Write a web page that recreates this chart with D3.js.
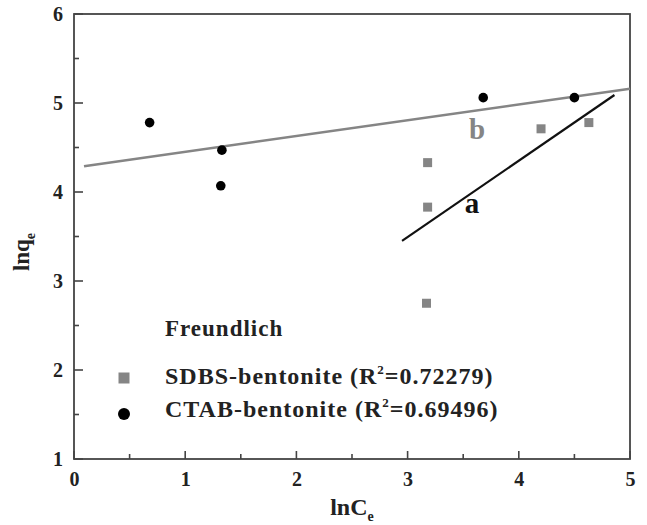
<!DOCTYPE html>
<html>
<head>
<meta charset="utf-8">
<script src="https://d3js.org/d3.v7.min.js"></script>
<style>
  body { margin: 0; background: #fff; }
  svg text { font-family: "Liberation Serif", "Times New Roman", serif; font-weight: bold; }
</style>
</head>
<body>
<div id="chart"></div>
<script>
// data
const sdbsX = [3.18, 3.18, 3.17, 4.20, 4.63];
const sdbsY = [4.33, 3.83, 2.75, 4.71, 4.78];
const ctabX = [0.68, 1.33, 1.32, 3.68, 4.50];
const ctabY = [4.78, 4.47, 4.07, 5.06, 5.06];
// fitted lines (endpoints as drawn)
const fitA = [[2.95, 3.45], [4.86, 5.09]];   // SDBS, black
const fitB = [[0.09, 4.29], [5.00, 5.16]];   // CTAB, grey
const xTicks = [0, 1, 2, 3, 4, 5];
const yTicks = [1, 2, 3, 4, 5, 6];
const xMinor = [0.5, 1.5, 2.5, 3.5, 4.5];
const yMinor = [1.5, 2.5, 3.5, 4.5, 5.5];

const W = 647, H = 525;
const padL = 74, padR = 630, padT = 14, padB = 459;
const grey = "#858585", axisCol = "#444";

const svg = d3.select("#chart").append("svg")
  .attr("width", W).attr("height", H);

const x = d3.scaleLinear().domain([0, 5]).range([padL, padR]);
const y = d3.scaleLinear().domain([1, 6]).range([padB, padT]);

// frame
svg.append("rect")
  .attr("x", padL).attr("y", padT)
  .attr("width", padR - padL).attr("height", padB - padT)
  .attr("fill", "none").attr("stroke", axisCol).attr("stroke-width", 1.8);

// tick labels via d3 axes, tick marks drawn inward by hand
const gx = svg.append("g").attr("transform", `translate(0,${padB})`)
  .call(d3.axisBottom(x).tickValues(xTicks).tickSize(0).tickPadding(13).tickFormat(d3.format("d")));
const gy = svg.append("g").attr("transform", `translate(${padL},0)`)
  .call(d3.axisLeft(y).tickValues(yTicks).tickSize(0).tickPadding(11).tickFormat(d3.format("d")));
[gx, gy].forEach(g => {
  g.select(".domain").remove();
  g.selectAll(".tick text").attr("fill", "#222").style("font-size", "20px")
    .style("font-family", "'Liberation Serif', serif").style("font-weight", "bold");
});

const xMarks = xTicks.map(v => ({ v: v, len: 8 })).concat(xMinor.map(v => ({ v: v, len: 5 })));
const yMarks = yTicks.map(v => ({ v: v, len: 9 })).concat(yMinor.map(v => ({ v: v, len: 5 })));
svg.selectAll("line.xmark").data(xMarks).join("line")
  .attr("class", "xmark")
  .attr("x1", d => x(d.v)).attr("x2", d => x(d.v))
  .attr("y1", padB).attr("y2", d => padB - d.len)
  .attr("stroke", axisCol).attr("stroke-width", 1.6);
svg.selectAll("line.ymark").data(yMarks).join("line")
  .attr("class", "ymark")
  .attr("y1", d => y(d.v)).attr("y2", d => y(d.v))
  .attr("x1", padL).attr("x2", d => padL + d.len)
  .attr("stroke", axisCol).attr("stroke-width", 1.6);

// fit lines
const line = d3.line().x(d => x(d[0])).y(d => y(d[1]));
svg.append("path").datum(fitB).attr("d", line)
  .attr("stroke", grey).attr("stroke-width", 2.4).attr("fill", "none");
svg.append("path").datum(fitA).attr("d", line)
  .attr("stroke", "#111").attr("stroke-width", 2.2).attr("fill", "none");

// points
const sdbs = sdbsX.map((v, i) => [v, sdbsY[i]]);
const ctab = ctabX.map((v, i) => [v, ctabY[i]]);
svg.selectAll("rect.sq").data(sdbs).join("rect").attr("class", "sq")
  .attr("x", d => x(d[0]) - 4.5).attr("y", d => y(d[1]) - 4.5)
  .attr("width", 9).attr("height", 9).attr("fill", grey);
svg.selectAll("circle.ci").data(ctab).join("circle").attr("class", "ci")
  .attr("cx", d => x(d[0])).attr("cy", d => y(d[1])).attr("r", 4.8).attr("fill", "#000");

// line labels
svg.append("text").attr("x", 477).attr("y", 139).attr("text-anchor", "middle")
  .attr("fill", grey).style("font-size", "29px").text("b");
svg.append("text").attr("x", 472).attr("y", 213).attr("text-anchor", "middle")
  .attr("fill", "#111").style("font-size", "29px").text("a");

// legend
const leg = svg.append("g");
leg.append("text").attr("x", 165).attr("y", 336).attr("fill", "#222")
  .style("font-size", "23px").style("letter-spacing", "1px").text("Freundlich");
leg.append("rect").attr("x", 118.5).attr("y", 372.5).attr("width", 11).attr("height", 11).attr("fill", grey);
leg.append("circle").attr("cx", 124).attr("cy", 414).attr("r", 6).attr("fill", "#000");

function legendText(yy, name, r2) {
  const t = leg.append("text").attr("x", 165).attr("y", yy).attr("fill", "#222")
    .style("font-size", "24px").style("letter-spacing", "1px");
  t.append("tspan").text(name + " (R");
  t.append("tspan").attr("dy", -10).style("font-size", "13px").text("2");
  t.append("tspan").attr("dy", 10).text("=" + r2 + ")");
}
legendText(384, "SDBS-bentonite", "0.72279");
legendText(417, "CTAB-bentonite", "0.69496");

// axis titles
const xt = svg.append("text").attr("x", 352).attr("y", 515).attr("text-anchor", "middle")
  .attr("fill", "#222").style("font-size", "24px");
xt.append("tspan").text("lnC");
xt.append("tspan").attr("dy", 6).style("font-size", "14px").text("e");

const yt = svg.append("text").attr("transform", "translate(29,252) rotate(-90)")
  .attr("text-anchor", "middle").attr("fill", "#222").style("font-size", "23px");
yt.append("tspan").text("lnq");
yt.append("tspan").attr("dy", 6).style("font-size", "14px").text("e");
</script>
</body>
</html>
